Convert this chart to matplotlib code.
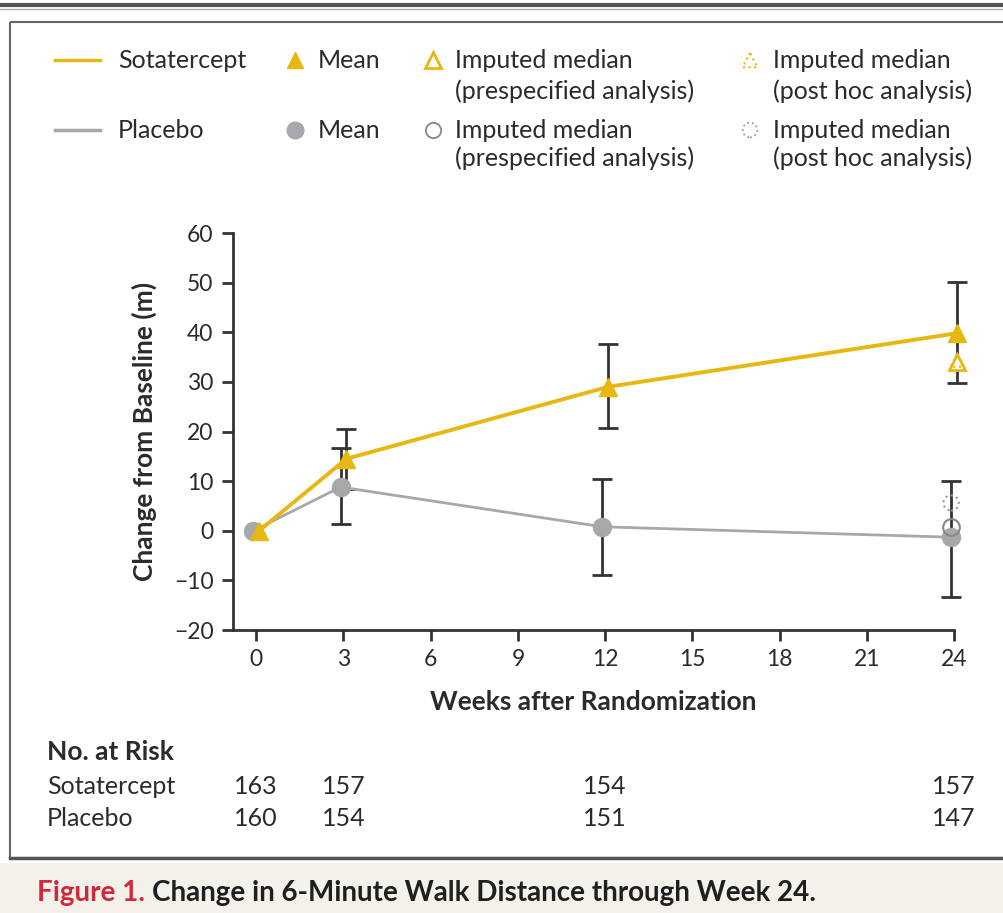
import matplotlib.pyplot as plt
from matplotlib.patches import Rectangle
from matplotlib.transforms import blended_transform_factory
import numpy as np

plt.rcParams['font.family'] = ['Lato', 'DejaVu Sans']

weeks = [0, 3, 12, 24]
sotaMean = [0, 14.5, 29.0, 39.8]
sotaLow = [0, 8.5, 20.7, 29.8]
sotaHigh = [0, 20.5, 37.6, 50.1]
placMean = [0, 8.8, 0.8, -1.3]
placLow = [0, 1.4, -8.9, -13.3]
placHigh = [0, 16.7, 10.4, 10.1]

# imputed medians at week 24
sotaMedPre = 34.0
sotaMedPost = 34.3
placMedPre = 0.8
placMedPost = 5.6

riskSota = [163, 157, 154, 157]
riskPlac = [160, 154, 151, 147]

yellow = '#e6b811'
gray = '#a6a8ab'
dark = '#333333'
txt = '#2b2b2b'

W, H = 1004, 913
fig = plt.figure(figsize=(W / 100, H / 100), dpi=100)

def fx(px):
    return px / W

def fy(py):
    return 1 - py / H

# pixel-coordinate overlay for frame, legend, risk table and caption
lax = fig.add_axes([0, 0, 1, 1], facecolor='none')
lax.set_xlim(0, W)
lax.set_ylim(H, 0)
lax.axis('off')
lax.add_patch(Rectangle((0, 863), W, 60, facecolor='#f4f0ea', edgecolor='none', zorder=0))
lax.plot([0, W], [5, 5], color='#555555', lw=3)
lax.plot([0, W], [9, 9], color='#aaaaaa', lw=1)
lax.add_patch(Rectangle((10, 22), W + 20, 836, fill=False, edgecolor='#666666', lw=1.5))
lax.plot([10, W], [858, 858], color='#555555', lw=2.5)

ax = fig.add_axes([fx(233), fy(630), fx(954) - fx(233), fy(233) - fy(630)])
ax.set_xlim(-0.8, 24)
ax.set_ylim(-20, 60)

off = 0.1
xs = np.array(weeks, dtype=float)
sotaErr = [np.array(sotaMean) - np.array(sotaLow), np.array(sotaHigh) - np.array(sotaMean)]
placErr = [np.array(placMean) - np.array(placLow), np.array(placHigh) - np.array(placMean)]

ax.errorbar(xs[1:] - off, placMean[1:], yerr=[placErr[0][1:], placErr[1][1:]], fmt='none',
            ecolor=dark, elinewidth=2, capsize=7, capthick=2, clip_on=False, zorder=2)
ax.errorbar(xs[1:] + off, sotaMean[1:], yerr=[sotaErr[0][1:], sotaErr[1][1:]], fmt='none',
            ecolor=dark, elinewidth=2, capsize=7, capthick=2, clip_on=False, zorder=2)

ax.plot(xs - off, placMean, color=gray, lw=2, marker='o', ms=13, mfc=gray, mec=gray,
        clip_on=False, zorder=3)
ax.plot(xs + off, sotaMean, color=yellow, lw=2.8, marker='^', ms=13, mfc=yellow, mec=yellow,
        clip_on=False, zorder=4)

ax.plot([24 + off], [sotaMedPre], marker='^', ms=12, mfc='white', mec=yellow, mew=2,
        ls='none', clip_on=False, zorder=5)
ax.scatter([24 + off], [sotaMedPost], marker='^', s=80, facecolors='none', edgecolors=yellow,
           linewidths=1.5, linestyles=':', clip_on=False, zorder=5)
ax.plot([24 - off], [placMedPre], marker='o', ms=12, mfc='none', mec='#888888', mew=1.5,
        ls='none', clip_on=False, zorder=5)
ax.scatter([24 - off], [placMedPost], marker='o', s=120, facecolors='none', edgecolors='#999999',
           linewidths=1.5, linestyles=':', clip_on=False, zorder=5)

ax.set_xticks(range(0, 25, 3))
ax.set_yticks(range(-20, 61, 10))
ax.set_yticklabels(['\u221220', '\u221210', '0', '10', '20', '30', '40', '50', '60'])
for s in ['top', 'right']:
    ax.spines[s].set_visible(False)
for s in ['left', 'bottom']:
    ax.spines[s].set_linewidth(2)
    ax.spines[s].set_color(dark)
ax.tick_params(direction='out', length=8, width=2, color=dark, labelsize=16.5, labelcolor=txt,
               pad=6)
ax.set_xlabel('Weeks after Randomization', fontsize=19, fontweight='bold', color=txt,
              labelpad=14)
ax.set_ylabel('Change from Baseline (m)', fontsize=19, fontweight='bold', color=txt,
              labelpad=12)

# legend, drawn by hand
fs = 18
lax.plot([55, 100], [60, 60], color=yellow, lw=2.5)
lax.plot([55, 100], [130, 130], color=gray, lw=2.5)
lax.text(118, 60, 'Sotatercept', fontsize=fs, color=txt, va='center')
lax.text(118, 130, 'Placebo', fontsize=fs, color=txt, va='center')
lax.plot([295], [60], marker='^', ms=12, mfc=yellow, mec=yellow)
lax.plot([295], [130], marker='o', ms=12, mfc=gray, mec=gray)
lax.text(318, 60, 'Mean', fontsize=fs, color=txt, va='center')
lax.text(318, 130, 'Mean', fontsize=fs, color=txt, va='center')
lax.plot([433], [60], marker='^', ms=12, mfc='white', mec=yellow, mew=2)
lax.plot([433], [130], marker='o', ms=11, mfc='white', mec='#888888', mew=1.3)
lax.scatter([750], [60], marker='^', s=110, facecolors='none', edgecolors=yellow, linewidths=1.5,
            linestyles=':')
lax.scatter([750], [130], marker='o', s=110, facecolors='none', edgecolors='#999999',
            linewidths=1.3, linestyles=':')
for x0, sub in [(455, '(prespecified analysis)'), (773, '(post hoc analysis)')]:
    for y0, y1 in [(60, 91), (130, 158)]:
        lax.text(x0, y0, 'Imputed median', fontsize=fs, color=txt, va='center')
        lax.text(x0, y1, sub, fontsize=fs, color=txt, va='center')

# number at risk
lax.text(47, 752, 'No. at Risk', fontsize=19, fontweight='bold', color=txt, va='center')
lax.text(47, 787, 'Sotatercept', fontsize=fs, color=txt, va='center')
lax.text(47, 818, 'Placebo', fontsize=fs, color=txt, va='center')
tr = blended_transform_factory(ax.transData, fig.transFigure)
for w, a, b in zip(weeks, riskSota, riskPlac):
    ax.text(w, fy(787), str(a), transform=tr, fontsize=fs, color=txt, ha='center', va='center')
    ax.text(w, fy(818), str(b), transform=tr, fontsize=fs, color=txt, ha='center', va='center')

# caption
t1 = lax.text(37, 893, 'Figure 1.', fontsize=20, fontweight='bold', color='#d2283c',
              va='center')
fig.canvas.draw()
bb = t1.get_window_extent()
fig.text(bb.x1 / W + fx(7), fy(893), 'Change in 6-Minute Walk Distance through Week 24.',
         fontsize=20, fontweight='bold', color='#1f1f1f', va='center')

fig.savefig('out.png', dpi=100)
